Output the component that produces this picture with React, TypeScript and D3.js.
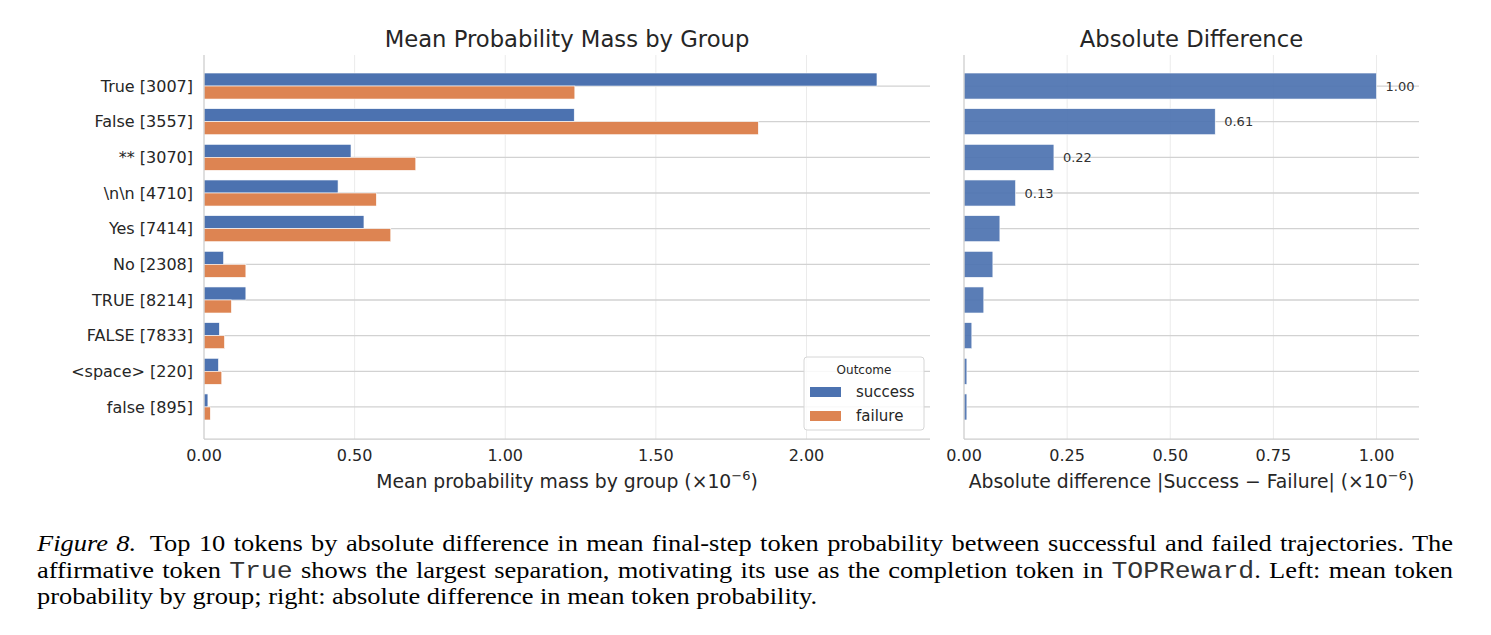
import { useRef, useEffect } from 'react';
import * as d3 from 'd3';

const tokens = [
	'True [3007]',
	'False [3557]',
	'** [3070]',
	'\\n\\n [4710]',
	'Yes [7414]',
	'No [2308]',
	'TRUE [8214]',
	'FALSE [7833]',
	'<space> [220]',
	'false [895]',
];
const successMass = [2.234, 1.229, 0.488, 0.445, 0.531, 0.065, 0.139, 0.051, 0.048, 0.013];
const failureMass = [1.231, 1.84, 0.703, 0.572, 0.62, 0.139, 0.091, 0.068, 0.059, 0.021];
const absDiff = [1.0, 0.609, 0.218, 0.125, 0.087, 0.07, 0.048, 0.019, 0.007, 0.007];
const groups = ['success', 'failure'];
const massTicks = [0, 0.5, 1, 1.5, 2];
const diffTicks = [0, 0.25, 0.5, 0.75, 1];

const WIDTH = 1491;
const HEIGHT = 635;
const BLUE = '#4c72b0';
const ORANGE = '#dd8452';
const INK = '#262626';
const FONT = "'DejaVu Sans', sans-serif";
const SERIF = "'Liberation Serif', 'Times New Roman', serif";
const MONO = "'Liberation Mono', 'Courier New', monospace";

const TOP = 55;
const BOTTOM = 439;
const CAPTION_LEFT = 37;
const CAPTION_RIGHT = 1453;
const CAPTION_STRETCH = 1.15; // the figure caption is set slightly wide

export default function App() {
	const svgRef = useRef<SVGSVGElement>(null);

	useEffect(() => {
		const svg = d3.select(svgRef.current);
		svg.selectAll('*').remove();

		const y = d3
			.scaleBand<string>()
			.domain(tokens)
			.range([68.2, 424.8])
			.paddingInner(0.27)
			.paddingOuter(0.135);
		const bw = y.bandwidth();

		const xL = d3.scaleLinear().domain([0, 2.41]).range([204, 930]);
		const xR = d3.scaleLinear().domain([0, 1.103]).range([964, 1419]);

		// shared frame: grid, ticks, titles
		const drawFrame = (
			x: d3.ScaleLinear<number, number>,
			ticks: number[],
			title: string,
			xlabel: string,
		) => {
			const [x0, x1] = x.range();
			const g = svg.append('g');
			g.selectAll('line.vgrid')
				.data(ticks.filter((t) => t > 0))
				.join('line')
				.attr('x1', (d) => x(d))
				.attr('x2', (d) => x(d))
				.attr('y1', TOP)
				.attr('y2', BOTTOM)
				.attr('stroke', '#ebebeb')
				.attr('stroke-width', 1);
			g.selectAll('line.hgrid')
				.data(tokens)
				.join('line')
				.attr('x1', x0)
				.attr('x2', x1)
				.attr('y1', (d) => (y(d) as number) + bw / 2)
				.attr('y2', (d) => (y(d) as number) + bw / 2)
				.attr('stroke', '#d2d2d2')
				.attr('stroke-width', 1.3);

			g.selectAll('text.xtick')
				.data(ticks)
				.join('text')
				.attr('x', (d) => x(d))
				.attr('y', 461)
				.attr('text-anchor', 'middle')
				.attr('font-size', 16)
				.attr('fill', INK)
				.text((d) => d3.format('.2f')(d));

			svg.append('text')
				.attr('x', (x0 + x1) / 2)
				.attr('y', 47)
				.attr('text-anchor', 'middle')
				.attr('font-size', 22.7)
				.attr('fill', INK)
				.text(title);

			const lab = svg
				.append('text')
				.attr('x', (x0 + x1) / 2)
				.attr('y', 488)
				.attr('text-anchor', 'middle')
				.attr('font-size', 18.8)
				.attr('fill', INK);
			lab.append('tspan').text(xlabel + ' (\u00d710');
			lab.append('tspan').attr('font-size', 13).attr('dy', -8).text('\u22126');
			lab.append('tspan').attr('dy', 8).text(')');
			return g;
		};

		const spines = (x: d3.ScaleLinear<number, number>) => {
			const [x0, x1] = x.range();
			svg.append('line')
				.attr('x1', x0).attr('x2', x0).attr('y1', TOP).attr('y2', BOTTOM)
				.attr('stroke', '#cccccc').attr('stroke-width', 1.25);
			svg.append('line')
				.attr('x1', x0).attr('x2', x1).attr('y1', BOTTOM).attr('y2', BOTTOM)
				.attr('stroke', '#cccccc').attr('stroke-width', 1.25);
		};

		// Left panel
		drawFrame(xL, massTicks, 'Mean Probability Mass by Group', 'Mean probability mass by group');

		svg.append('g')
			.selectAll('text')
			.data(tokens)
			.join('text')
			.attr('x', 193)
			.attr('y', (d) => (y(d) as number) + bw / 2)
			.attr('dy', '0.35em')
			.attr('text-anchor', 'end')
			.attr('font-size', 16)
			.attr('fill', INK)
			.text((d) => d);

		const series = [successMass, failureMass];
		const colors = [BLUE, ORANGE];
		series.forEach((vals, k) => {
			svg.append('g')
				.selectAll('rect')
				.data(tokens)
				.join('rect')
				.attr('x', xL(0))
				.attr('y', (d) => (y(d) as number) + (k * bw) / 2)
				.attr('width', (_, i) => xL(vals[i]) - xL(0))
				.attr('height', bw / 2)
				.attr('fill', colors[k])
				.attr('stroke', '#ffffff')
				.attr('stroke-width', 0.6);
		});
		spines(xL);

		// Legend
		const lg = svg.append('g').attr('transform', 'translate(804,357)');
		lg.append('rect')
			.attr('width', 120)
			.attr('height', 73)
			.attr('rx', 3)
			.attr('fill', '#ffffff')
			.attr('fill-opacity', 0.85)
			.attr('stroke', '#d6d6d6');
		lg.append('text')
			.attr('x', 60)
			.attr('y', 17)
			.attr('text-anchor', 'middle')
			.attr('font-size', 12)
			.attr('fill', INK)
			.text('Outcome');
		groups.forEach((name, k) => {
			lg.append('rect')
				.attr('x', 6)
				.attr('y', 30 + k * 24)
				.attr('width', 31)
				.attr('height', 10)
				.attr('fill', colors[k]);
			lg.append('text')
				.attr('x', 52)
				.attr('y', 35 + k * 24)
				.attr('dy', '0.35em')
				.attr('font-size', 15)
				.attr('fill', INK)
				.text(name);
		});

		// Right panel
		drawFrame(xR, diffTicks, 'Absolute Difference', 'Absolute difference |Success \u2212 Failure|');
		svg.append('g')
			.selectAll('rect')
			.data(tokens)
			.join('rect')
			.attr('x', xR(0))
			.attr('y', (d) => y(d) as number)
			.attr('width', (_, i) => xR(absDiff[i]) - xR(0))
			.attr('height', bw)
			.attr('fill', BLUE)
			.attr('fill-opacity', 0.92)
			.attr('stroke', '#ffffff')
			.attr('stroke-width', 0.6);
		svg.append('g')
			.selectAll('text')
			.data(tokens.filter((_, i) => absDiff[i] >= 0.1))
			.join('text')
			.attr('x', (_, i) => xR(absDiff[i]) + 9)
			.attr('y', (d) => (y(d) as number) + bw / 2)
			.attr('dy', '0.35em')
			.attr('font-size', 13)
			.attr('fill', '#333333')
			.text((_, i) => d3.format('.2f')(absDiff[i]));
		spines(xR);

		// Caption
		const cap = svg
			.append('g')
			.attr('transform', `translate(${CAPTION_LEFT},0) scale(${CAPTION_STRETCH},1)`)
			.attr('font-family', SERIF)
			.attr('font-size', 23)
			.attr('fill', '#000');
		const l1 = cap.append('text').attr('x', 0).attr('y', 551);
		l1.append('tspan').attr('font-style', 'italic').text('Figure 8.');
		l1.append('tspan')
			.attr('dx', 5)
			.text(' Top 10 tokens by absolute difference in mean final-step token probability between successful and failed trajectories. The');
		const l2 = cap.append('text').attr('x', 0).attr('y', 578);
		l2.append('tspan').text('affirmative token ');
		l2.append('tspan').attr('font-family', MONO).attr('fill', '#333').text('True');
		l2.append('tspan').text(' shows the largest separation, motivating its use as the completion token in ');
		l2.append('tspan').attr('font-family', MONO).attr('fill', '#333').text('TOPReward');
		l2.append('tspan').text('. Left: mean token');
		cap.append('text')
			.attr('x', 0)
			.attr('y', 604)
			.text('probability by group; right: absolute difference in mean token probability.');

		// justify the first two caption lines
		const target = (CAPTION_RIGHT - CAPTION_LEFT) / CAPTION_STRETCH;
		[l1, l2].forEach((t) => {
			const node = t.node() as SVGTextElement;
			const natural = node.getComputedTextLength() + (t === l1 ? 5 : 0);
			const spaces = (node.textContent || '').split(' ').length - 1;
			t.attr('word-spacing', (target - natural) / spaces);
		});
	}, []);

	return (
		<svg
			ref={svgRef}
			width={WIDTH}
			height={HEIGHT}
			style={{ position: 'absolute', left: 0, top: 0, fontFamily: FONT, background: '#fff' }}
		/>
	);
}
